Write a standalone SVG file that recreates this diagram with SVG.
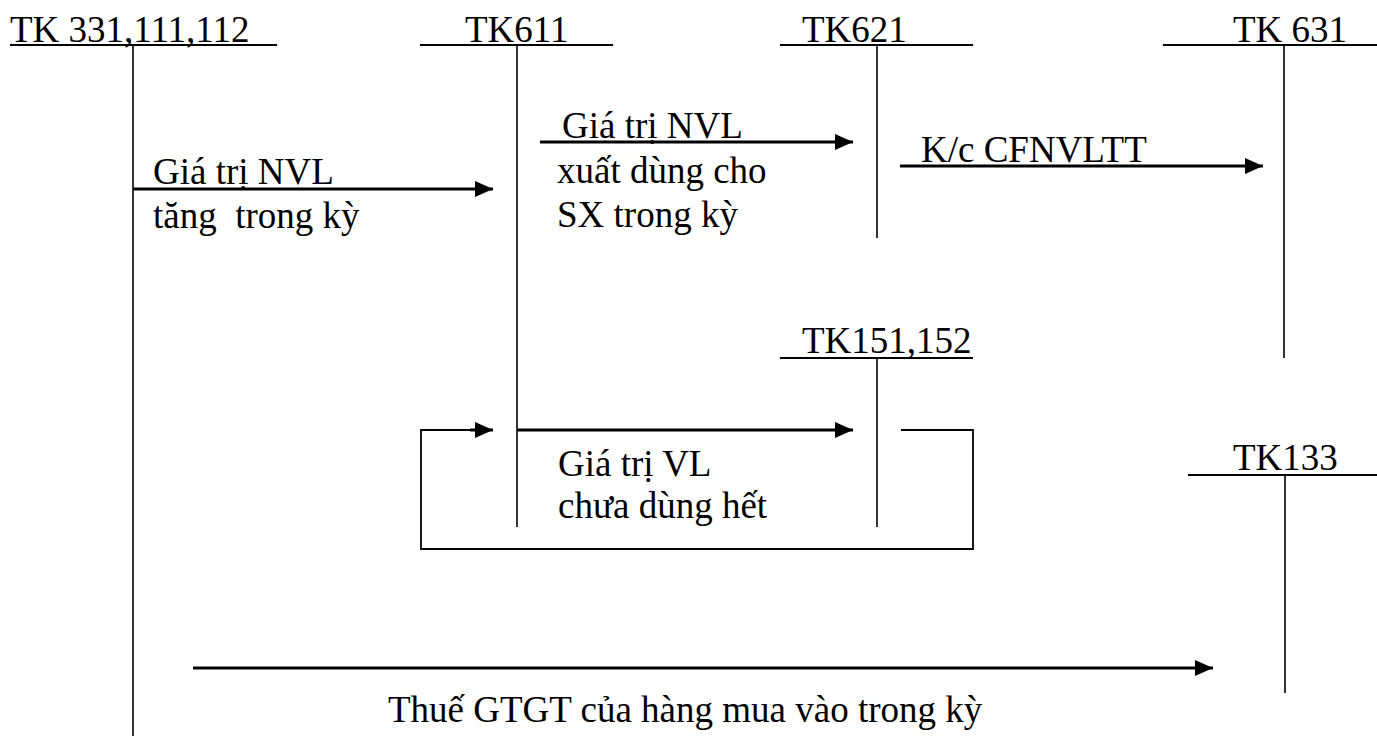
<svg xmlns="http://www.w3.org/2000/svg" width="1377" height="736" viewBox="0 0 1377 736">
<style>
text{font-family:"Liberation Serif","Times New Roman",serif;font-size:37px;fill:#000;white-space:pre}
.acc{stroke:#000;stroke-width:1.6;fill:none}
.ul{stroke:#000;stroke-width:2;fill:none}
.arr{stroke:#000;stroke-width:3;fill:none;marker-end:url(#ah)}
.ln{stroke:#000;stroke-width:1.8;fill:none}
</style>
<defs>
<marker id="ah" markerUnits="userSpaceOnUse" markerWidth="18" markerHeight="16" refX="18" refY="8" orient="auto" viewBox="0 0 18 16">
<path d="M0,0 L18,8 L0,16 Z" fill="#000"/>
</marker>
</defs>
<rect width="1377" height="736" fill="#fff"/>

<g id="tk331">
<text x="10" y="42">TK 331,111,112</text>
<line class="ul" x1="10" y1="45" x2="277" y2="45"/>
<line class="acc" x1="133" y1="45" x2="133" y2="736"/>
</g>
<g id="tk611">
<text x="465" y="42">TK611</text>
<line class="ul" x1="420" y1="45" x2="613" y2="45"/>
<line class="acc" x1="517" y1="45" x2="517" y2="527"/>
</g>
<g id="tk621">
<text x="802" y="42">TK621</text>
<line class="ul" x1="780" y1="45" x2="973" y2="45"/>
<line class="acc" x1="877" y1="45" x2="877" y2="238"/>
</g>
<g id="tk631">
<text x="1233" y="42">TK 631</text>
<line class="ul" x1="1163" y1="45" x2="1377" y2="45"/>
<line class="acc" x1="1284" y1="45" x2="1284" y2="358"/>
</g>
<g id="tk151">
<text x="802" y="353">TK151,152</text>
<line class="ul" x1="780" y1="358" x2="973" y2="358"/>
<line class="acc" x1="877" y1="358" x2="877" y2="527"/>
</g>
<g id="tk133">
<text x="1233" y="470">TK133</text>
<line class="ul" x1="1188" y1="475" x2="1377" y2="475"/>
<line class="acc" x1="1285" y1="475" x2="1285" y2="693"/>
</g>

<g id="connectors">
<line class="arr" x1="133" y1="189" x2="493" y2="189"/>
<line class="arr" x1="540" y1="142" x2="853" y2="142"/>
<line class="arr" x1="900" y1="166" x2="1263" y2="166"/>
<line class="arr" x1="517" y1="430" x2="853" y2="430"/>
<polyline class="ln" points="901,430 973,430 973,549 421,549 421,430 480,430"/>
<line class="arr" x1="470" y1="430" x2="493" y2="430"/>
<line class="arr" x1="193" y1="668" x2="1213" y2="668"/>
</g>

<g id="labels">
<text x="153" y="184">Giá trị NVL</text>
<text x="153" y="228" xml:space="preserve">tăng  trong kỳ</text>
<text x="562" y="138">Giá trị NVL</text>
<text x="557" y="183">xuất dùng cho</text>
<text x="557" y="227">SX trong kỳ</text>
<text x="921" y="162">K/c CFNVLTT</text>
<text x="558" y="476">Giá trị VL</text>
<text x="558" y="518">chưa dùng hết</text>
<text x="388" y="722">Thuế GTGT của hàng mua vào trong kỳ</text>
</g>
</svg>
